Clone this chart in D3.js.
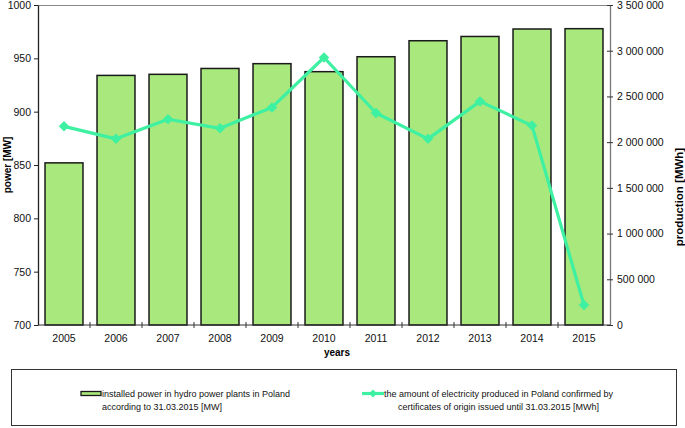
<!DOCTYPE html>
<html><head><meta charset="utf-8">
<script src="https://cdn.jsdelivr.net/npm/d3@7"></script>
<style>body{margin:0;background:#fff}svg{display:block;font-family:"Liberation Sans",Arial,sans-serif}</style>
</head><body><svg id="c" width="685" height="428"></svg>
<script>
const years = ["2005","2006","2007","2008","2009","2010","2011","2012","2013","2014","2015"];
const powerMW = [852, 934, 935, 940.5, 945, 937.5, 951.5, 966.5, 970.5, 977.5, 977.8];
const productionMWh = [2173000, 2036000, 2250000, 2151000, 2380000, 2926000, 2319000, 2036000, 2446000, 2181000, 218000];
const leftTicks = [700, 750, 800, 850, 900, 950, 1000];
const rightTicks = [0, 500000, 1000000, 1500000, 2000000, 2500000, 3000000, 3500000];
const legendBar = ["installed power in hydro power plants in Poland", "according to 31.03.2015 [MW]"];
const legendLine = ["the amount of electricity produced in Poland confirmed by", "certificates of origin issued until 31.03.2015 [MWh]"];

const svg = d3.select("#c");
const L = 38, R = 610, T = 5, B = 325;
const x = d3.scaleBand().domain(years).range([L, R]).paddingInner(0.27).paddingOuter(0.135);
const yL = d3.scaleLinear().domain([700, 1000]).range([B, T]);
const yR = d3.scaleLinear().domain([0, 3500000]).range([B, T]);
const fmt = v => d3.format(",")(v).replace(/,/g, " ");
const barColor = "#a8e87c", lineColor = "#3ef0a2";

// top border
svg.append("line").attr("x1", L).attr("x2", R).attr("y1", T+0.5).attr("y2", T+0.5).attr("stroke", "#888").attr("stroke-width", 1.2);

// bars
svg.append("g").selectAll("rect").data(years).join("rect")
  .attr("x", d => x(d)).attr("width", x.bandwidth())
  .attr("y", (d, i) => yL(powerMW[i])).attr("height", (d, i) => B - yL(powerMW[i]))
  .attr("fill", barColor).attr("stroke", "#1a1a1a").attr("stroke-width", 1.5);

// left axis
const gL = svg.append("g").attr("transform", `translate(${L},0)`)
  .call(d3.axisLeft(yL).tickValues(leftTicks).tickFormat(d3.format("d")).tickSize(4).tickSizeOuter(0).tickPadding(3));
gL.select(".domain").attr("stroke", "#222").attr("stroke-width", 1.3);
gL.selectAll(".tick line").attr("stroke", "#222");
gL.selectAll("text").attr("font-size", 10.5).attr("fill", "#111").attr("font-family", "Liberation Sans, Arial");

// right axis
const gR = svg.append("g").attr("transform", `translate(${R},0)`)
  .call(d3.axisRight(yR).tickValues(rightTicks).tickFormat(fmt).tickSize(3).tickSizeOuter(0).tickPadding(4));
gR.select(".domain").attr("stroke", "#777").attr("stroke-width", 1.3);
gR.selectAll(".tick line").attr("stroke", "#333").attr("x1", -3);
gR.selectAll("text").attr("font-size", 10.5).attr("fill", "#111").attr("font-family", "Liberation Sans, Arial");

// bottom axis
const gB = svg.append("g").attr("transform", `translate(0,${B})`);
gB.append("line").attr("x1", L).attr("x2", R).attr("stroke", "#333").attr("stroke-width", 1.2);
const step = x.step();
const bounds = years.slice(1).map((d) => x(d) - (step - x.bandwidth()) / 2);
gB.selectAll("line.t").data(bounds).join("line").attr("class", "t")
  .attr("x1", d => d).attr("x2", d => d).attr("y1", -3).attr("y2", 3).attr("stroke", "#333");
gB.selectAll("text").data(years).join("text")
  .attr("x", d => x(d) + x.bandwidth() / 2).attr("y", 17).attr("text-anchor", "middle")
  .attr("font-size", 10.5).attr("fill", "#111").text(d => d);

// line series
const pts = years.map((d, i) => [x(d) + x.bandwidth() / 2, yR(productionMWh[i])]);
svg.append("path").attr("d", d3.line()(pts)).attr("fill", "none").attr("stroke", lineColor).attr("stroke-width", 3.2).attr("stroke-linejoin", "round");
svg.append("g").selectAll("path").data(pts).join("path")
  .attr("transform", d => `translate(${d[0]},${d[1]})`)
  .attr("d", d3.symbol(d3.symbolDiamond2, 70)()).attr("fill", lineColor);

// axis titles
svg.append("text").attr("transform", "translate(11,165) rotate(-90)").attr("text-anchor", "middle")
  .attr("font-size", 10).attr("font-weight", "bold").text("power [MW]");
svg.append("text").attr("transform", "translate(683,197) rotate(-90)").attr("text-anchor", "middle")
  .attr("font-size", 11.5).attr("font-weight", "bold").text("production [MWh]");
svg.append("text").attr("x", 337).attr("y", 356).attr("text-anchor", "middle")
  .attr("font-size", 10).attr("font-weight", "bold").text("years");

// legend
svg.append("rect").attr("x", 11.5).attr("y", 369.5).attr("width", 665).attr("height", 56)
  .attr("fill", "none").attr("stroke", "#333").attr("stroke-width", 1);
svg.append("rect").attr("x", 81).attr("y", 391.5).attr("width", 20).attr("height", 4)
  .attr("fill", barColor).attr("stroke", "#1a1a1a").attr("stroke-width", 1.3);
svg.append("g").selectAll("text").data(legendBar).join("text")
  .attr("x", 102).attr("y", (d, i) => 397 + i * 13).attr("font-size", 9).attr("fill", "#111").text(d => d);
svg.append("line").attr("x1", 362).attr("x2", 384).attr("y1", 393.5).attr("y2", 393.5).attr("stroke", lineColor).attr("stroke-width", 3.2);
svg.append("path").attr("transform", "translate(373,393.5)").attr("d", d3.symbol(d3.symbolDiamond2, 40)()).attr("fill", lineColor);
svg.append("g").selectAll("text").data(legendLine).join("text")
  .attr("x", 498.5).attr("y", (d, i) => 397 + i * 13).attr("text-anchor", "middle").attr("font-size", 9).attr("fill", "#111").text(d => d);
</script></body></html>
